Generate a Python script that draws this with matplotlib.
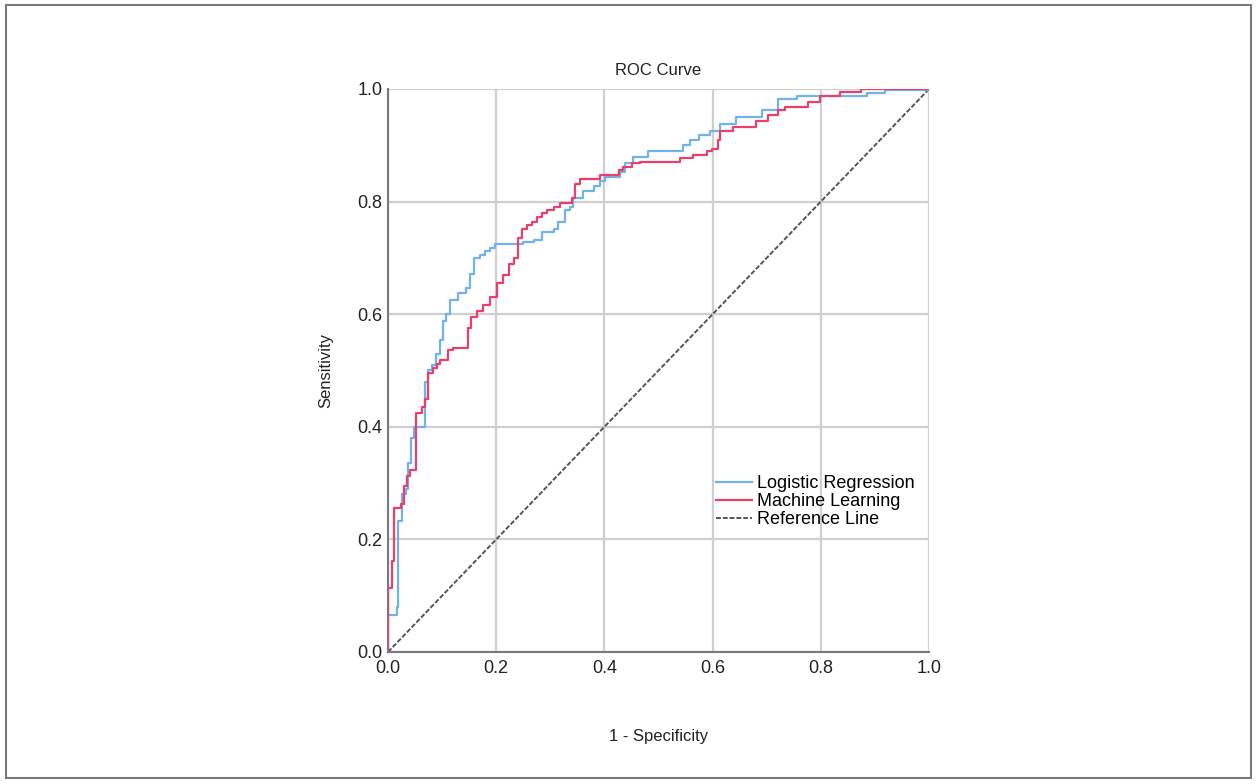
import matplotlib.pyplot as plt
from matplotlib.patches import Rectangle

plt.rcParams['font.family'] = ['Liberation Sans Narrow', 'Liberation Sans', 'DejaVu Sans']

# ROC points (x = 1 - specificity, y = sensitivity)
lr_fpr = [0, 0, 0.017, 0.018, 0.025, 0.033, 0.037, 0.043, 0.048, 0.068, 0.073, 0.081,
          0.088, 0.096, 0.102, 0.108, 0.115, 0.130, 0.145, 0.152, 0.158, 0.170, 0.180,
          0.188, 0.198, 0.250, 0.269, 0.284, 0.306, 0.315, 0.327, 0.336, 0.342, 0.361,
          0.380, 0.392, 0.401, 0.429, 0.438, 0.453, 0.481, 0.546, 0.558, 0.574, 0.595,
          0.614, 0.644, 0.691, 0.721, 0.756, 0.885, 0.918, 1.0]
lr_tpr = [0, 0.065, 0.080, 0.232, 0.280, 0.290, 0.335, 0.380, 0.400, 0.480, 0.500, 0.510,
          0.530, 0.554, 0.587, 0.600, 0.625, 0.637, 0.646, 0.672, 0.699, 0.705, 0.712,
          0.717, 0.725, 0.729, 0.732, 0.746, 0.752, 0.764, 0.785, 0.790, 0.806, 0.818,
          0.827, 0.836, 0.844, 0.853, 0.868, 0.880, 0.889, 0.900, 0.909, 0.918, 0.926,
          0.938, 0.951, 0.963, 0.982, 0.988, 0.993, 0.998, 1.0]

ml_fpr = [0, 0, 0.007, 0.011, 0.024, 0.030, 0.035, 0.041, 0.051, 0.062, 0.068, 0.074,
          0.084, 0.090, 0.096, 0.111, 0.120, 0.148, 0.154, 0.164, 0.176, 0.189, 0.201,
          0.213, 0.223, 0.232, 0.241, 0.247, 0.256, 0.266, 0.275, 0.284, 0.293, 0.306,
          0.318, 0.340, 0.346, 0.355, 0.392, 0.426, 0.435, 0.451, 0.466, 0.540, 0.564,
          0.589, 0.598, 0.610, 0.613, 0.638, 0.681, 0.703, 0.721, 0.734, 0.777, 0.798,
          0.835, 0.875, 1.0]
ml_tpr = [0, 0.113, 0.162, 0.256, 0.262, 0.295, 0.312, 0.324, 0.424, 0.436, 0.450, 0.495,
          0.504, 0.511, 0.518, 0.536, 0.540, 0.575, 0.595, 0.605, 0.616, 0.631, 0.655,
          0.670, 0.690, 0.700, 0.735, 0.752, 0.758, 0.764, 0.773, 0.779, 0.785, 0.791,
          0.797, 0.806, 0.832, 0.840, 0.847, 0.856, 0.862, 0.868, 0.871, 0.877, 0.883,
          0.889, 0.893, 0.909, 0.925, 0.932, 0.944, 0.953, 0.962, 0.968, 0.976, 0.988,
          0.994, 1.0, 1.0]

ticks = [0.0, 0.2, 0.4, 0.6, 0.8, 1.0]

fig = plt.figure(figsize=(12.57, 7.84), dpi=100)
ax = fig.add_axes([0.3087, 0.1684, 0.4304, 0.7181])

# thin frame around the whole picture
fig.patches.append(Rectangle((0.005, 0.008), 0.99, 0.985, transform=fig.transFigure,
                             fill=False, edgecolor='#7a7a7a', lw=1.5))

ax.plot(lr_fpr, lr_tpr, drawstyle='steps-post', color='#72b2ea', lw=1.6,
        label='Logistic Regression', zorder=3)
ax.plot(ml_fpr, ml_tpr, drawstyle='steps-post', color='#e8406a', lw=1.6,
        label='Machine Learning', zorder=4)
ax.plot([0, 1], [0, 1], color='#555555', ls=(0, (2.5, 1)), lw=1.4,
        label='Reference Line', zorder=2)

ax.set_xlim(0, 1)
ax.set_ylim(0, 1)
ax.set_xticks(ticks)
ax.set_yticks(ticks)
ax.set_xticklabels(['%.1f' % t for t in ticks])
ax.set_yticklabels(['%.1f' % t for t in ticks])
ax.tick_params(length=0, labelsize=13, colors='#222222')
ax.tick_params(axis='x', pad=6)
ax.tick_params(axis='y', pad=4)
ax.grid(True, color='#cfcfcf', lw=1.6, zorder=0)
ax.set_axisbelow(True)

for s in ['top', 'right']:
    ax.spines[s].set_visible(False)
for s in ['left', 'bottom']:
    ax.spines[s].set_color('#7a7a7a')
    ax.spines[s].set_linewidth(1.5)

ax.set_title('ROC Curve', fontsize=12, pad=10, color='#222222')
ax.set_xlabel('1 - Specificity', fontsize=12, labelpad=37, color='#222222')
ax.set_ylabel('Sensitivity', fontsize=12, labelpad=17, color='#222222')

ax.legend(loc='upper left', bbox_to_anchor=(0.589, 0.33), frameon=False,
          fontsize=13, handlelength=2.0, handletextpad=0.3, labelspacing=0.05,
          borderpad=0)

fig.savefig('out.png', dpi=100)
